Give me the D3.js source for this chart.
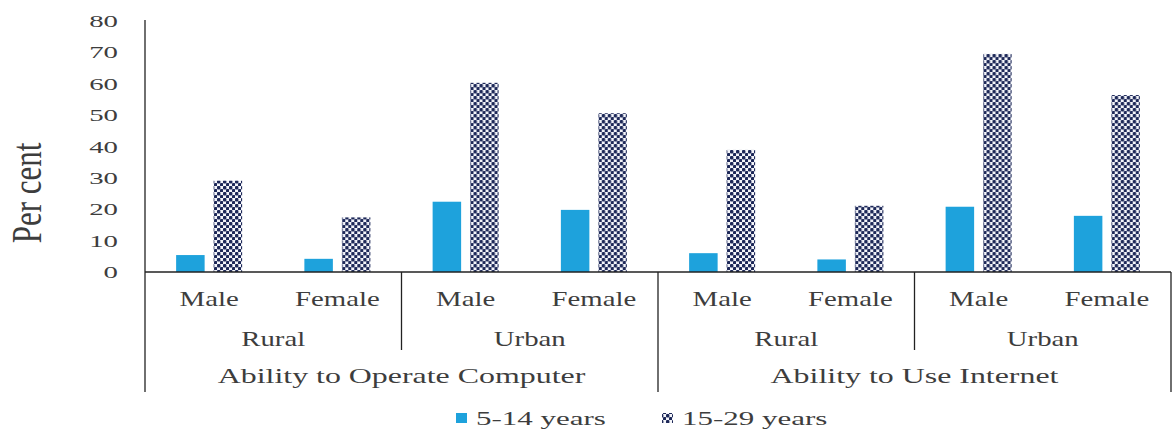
<!DOCTYPE html>
<html>
  <head>
    <meta charset="utf-8">
    <title>Computer and internet ability</title>
    <script src="https://d3js.org/d3.v7.min.js"></script>
    <style>
      body { margin: 0; background: #fff; }
      svg { display: block; }
      text { font-family: "Liberation Serif", "Times New Roman", serif; fill: #3d3d3d; }
    </style>
  </head>
  <body>
    <svg id="chart" width="1174" height="432"></svg>
    <script>
      // data
      const groups = ["Ability to Operate Computer", "Ability to Use Internet"];
      const areas = ["Rural", "Urban"];
      const sexes = ["Male", "Female"];
      const seriesNames = ["5-14 years", "15-29 years"];
      const young = [5.4, 4.2, 22.4, 19.8, 6.0, 4.0, 20.8, 17.9];
      const older = [29.1, 17.4, 60.3, 50.6, 38.9, 21.1, 69.5, 56.4];
      const yTicks = [0, 10, 20, 30, 40, 50, 60, 70, 80];

      // build flat category list: group / area / sex
      let cats = [];
      groups.forEach(function(g, gi) {
        areas.forEach(function(a, ai) {
          sexes.forEach(function(s, si) {
            let i = cats.length;
            cats.push({ id: i, group: g, area: a, sex: s, gi: gi, ai: ai, vals: [young[i], older[i]] });
          });
        });
      });

      const svg = d3.select("#chart");
      const margin = { left: 145, right: 3, top: 21, base: 272 };
      const width = 1174, blue = "#1ea2dc", navy = "#1d2858";
      const axisColor = "#222";

      // checker pattern for the older group
      const defs = svg.append("defs");
      const pat = defs.append("pattern")
        .attr("id", "checker")
        .attr("patternUnits", "userSpaceOnUse")
        .attr("width", 6).attr("height", 6);
      pat.append("rect").attr("width", 6).attr("height", 6).attr("fill", "#f4f5fa");
      pat.append("rect").attr("x", 0).attr("y", 0).attr("width", 3.4).attr("height", 3.4).attr("rx", 1).attr("fill", navy);
      pat.append("rect").attr("x", 3).attr("y", 3).attr("width", 3.4).attr("height", 3.4).attr("rx", 1).attr("fill", navy);

      const x = d3.scaleBand()
        .domain(cats.map(function(d) { return d.id; }))
        .range([margin.left, width - margin.right])
        .paddingInner(0).paddingOuter(0);
      const xs = d3.scaleBand()
        .domain([0, 1])
        .range([0, x.bandwidth()])
        .paddingInner(0.24).paddingOuter(0.83);
      const y = d3.scaleLinear()
        .domain([0, 80])
        .range([margin.base, margin.top]);

      function label(g, txt, cx, by, size, sx) {
        g.append("text")
          .attr("transform", "translate(" + cx + "," + by + ") scale(" + sx + ",1)")
          .attr("text-anchor", "middle")
          .style("font-size", size + "px")
          .text(txt);
      }

      // bars
      const barGroup = svg.append("g");
      const catG = barGroup.selectAll(".cat")
          .data(cats)
        .enter().append("g")
          .attr("class", "cat")
          .attr("transform", function(d) { return "translate(" + x(d.id) + ",0)"; });
      catG.selectAll("rect")
          .data(function(d) { return d.vals; })
        .enter().append("rect")
          .attr("x", function(d, i) { return xs(i); })
          .attr("y", function(d) { return y(d); })
          .attr("width", xs.bandwidth())
          .attr("height", function(d) { return y(0) - y(d); })
          .attr("fill", function(d, i) { return i == 0 ? blue : "url(#checker)"; });

      // y axis
      const yAxis = d3.axisLeft(y).tickValues(yTicks).tickSize(0);
      const axisG = svg.append("g")
        .attr("transform", "translate(" + margin.left + ",0)")
        .call(yAxis);
      axisG.select(".domain").remove();
      axisG.selectAll("text")
        .attr("x", 0).attr("dy", "0.35em")
        .attr("transform", "translate(-27,0) scale(1.8,1)")
        .style("font-size", "16px")
        .style("font-family", null)
        .attr("fill", "#3d3d3d");

      const lines = svg.append("g")
        .attr("stroke", axisColor).attr("stroke-width", 1.3);
      const xEnd = width - margin.right;
      // axis + baseline
      lines.append("line").attr("x1", margin.left).attr("x2", margin.left).attr("y1", y(80) - 1).attr("y2", 392);
      lines.append("line").attr("x1", margin.left).attr("x2", xEnd).attr("y1", y(0)).attr("y2", y(0));

      // separators between areas and groups
      cats.forEach(function(d) {
        if (d.id == 0) return;
        if (sexes.indexOf(d.sex) != 0) return;
        let full = d.ai == 0;
        lines.append("line")
          .attr("x1", x(d.id)).attr("x2", x(d.id))
          .attr("y1", y(0)).attr("y2", full ? 392 : 350);
      });
      lines.append("line").attr("x1", xEnd).attr("x2", xEnd).attr("y1", y(0)).attr("y2", 392);

      // category labels
      const labels = svg.append("g");
      cats.forEach(function(d) {
        label(labels, d.sex, x(d.id) + x.bandwidth() / 2, 306, 20, 1.44);
      });
      groups.forEach(function(g, gi) {
        areas.forEach(function(a, ai) {
          let first = (gi * areas.length + ai) * sexes.length;
          let cx = x(first) + x.bandwidth() * sexes.length / 2;
          label(labels, a, cx, 346, 20, 1.44);
        });
        let first = gi * areas.length * sexes.length;
        let cx = x(first) + x.bandwidth() * areas.length * sexes.length / 2;
        label(labels, g, cx, 383, 22, 1.45);
      });

      // y title
      svg.append("text")
        .attr("transform", "translate(41,193) scale(1.37,1) rotate(-90)")
        .attr("text-anchor", "middle")
        .style("font-size", "31px")
        .text("Per cent");

      // legend
      const legend = svg.append("g");
      const legendX = [456, 662];
      seriesNames.forEach(function(s, i) {
        legend.append("rect")
          .attr("x", legendX[i]).attr("y", 413)
          .attr("width", 11).attr("height", 10)
          .attr("fill", i == 0 ? blue : "url(#checker)");
        legend.append("text")
          .attr("transform", "translate(" + (legendX[i] + 20) + ",425) scale(1.72,1)")
          .style("font-size", "18px")
          .text(s);
      });
    </script>
  </body>
</html>
